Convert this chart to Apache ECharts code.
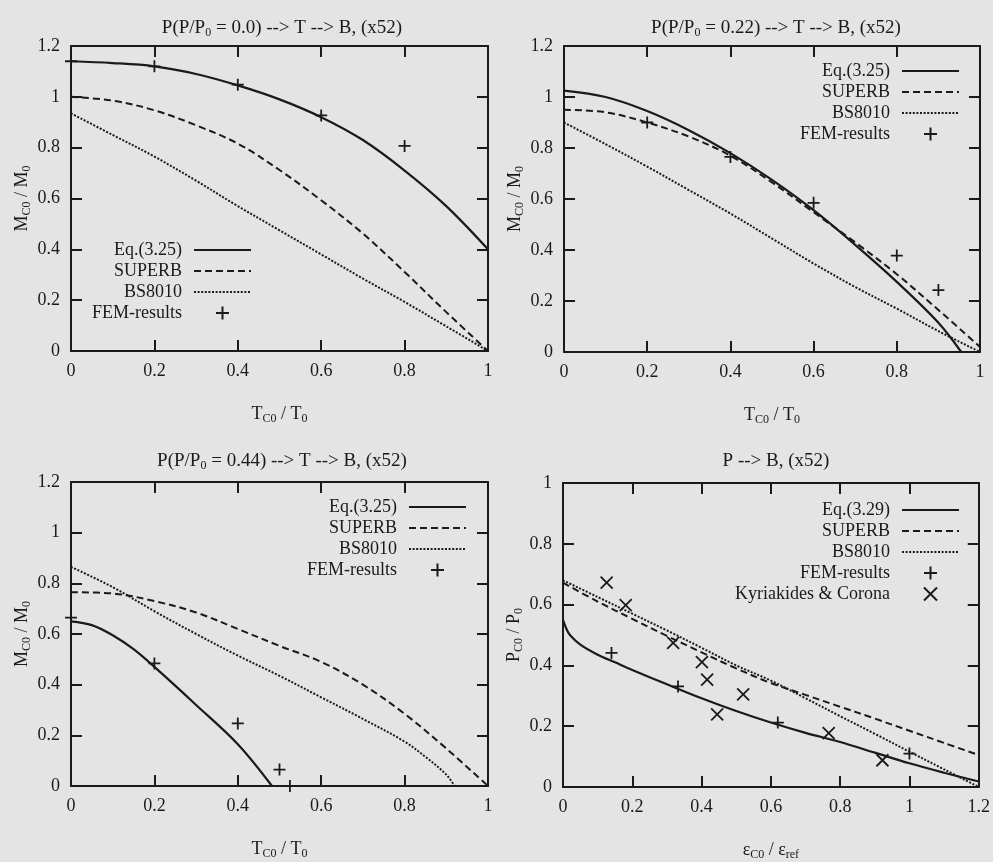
<!DOCTYPE html>
<html>
<head>
<meta charset="utf-8">
<script src="https://cdn.jsdelivr.net/npm/echarts@6/dist/echarts.min.js"></script>
<style>
html,body{margin:0;padding:0;background:#e4e4e5;}
#chart{width:993px;height:862px;}
</style>
</head>
<body>
<div id="chart"></div>
<script>
// ---------- DATA ----------
// Panel 1: P(P/P0 = 0.0) --> T --> B
const p1_eq     = [[0,1.14],[0.1,1.133],[0.2,1.12],[0.3,1.09],[0.4,1.045],[0.5,0.99],[0.6,0.92],[0.7,0.83],[0.8,0.71],[0.9,0.57],[1.0,0.40]];
const p1_superb = [[0,1.0],[0.1,0.985],[0.2,0.947],[0.3,0.888],[0.4,0.816],[0.5,0.712],[0.6,0.593],[0.7,0.462],[0.8,0.311],[0.9,0.153],[1.0,0.0]];
const p1_bs     = [[0,0.935],[0.1,0.85],[0.2,0.765],[0.3,0.67],[0.4,0.57],[0.5,0.475],[0.6,0.38],[0.7,0.285],[0.8,0.193],[0.9,0.097],[1.0,0.0]];
const p1_fem    = [[0,1.14],[0.2,1.12],[0.4,1.048],[0.6,0.927],[0.8,0.807]];

// Panel 2: P(P/P0 = 0.22) --> T --> B
const p2_eq     = [[0,1.025],[0.1,1.0],[0.2,0.945],[0.3,0.87],[0.4,0.78],[0.5,0.675],[0.6,0.556],[0.7,0.42],[0.8,0.275],[0.9,0.115],[0.955,0]];
const p2_superb = [[0,0.95],[0.1,0.94],[0.2,0.9],[0.3,0.845],[0.4,0.77],[0.5,0.665],[0.6,0.548],[0.7,0.43],[0.8,0.305],[0.9,0.165],[1.0,0.02]];
const p2_bs     = [[0,0.9],[0.1,0.815],[0.2,0.727],[0.3,0.635],[0.4,0.543],[0.5,0.445],[0.6,0.347],[0.7,0.255],[0.8,0.17],[0.9,0.082],[1.0,0.0]];
const p2_fem    = [[0.2,0.90],[0.4,0.765],[0.6,0.585],[0.8,0.378],[0.9,0.243]];

// Panel 3: P(P/P0 = 0.44) --> T --> B
const p3_eq     = [[0,0.65],[0.05,0.635],[0.1,0.595],[0.15,0.54],[0.2,0.47],[0.3,0.32],[0.4,0.165],[0.482,0]];
const p3_superb = [[0,0.765],[0.1,0.76],[0.2,0.73],[0.3,0.685],[0.4,0.62],[0.5,0.553],[0.6,0.49],[0.7,0.4],[0.8,0.285],[0.9,0.148],[1.0,0.0]];
const p3_bs     = [[0,0.865],[0.1,0.785],[0.2,0.69],[0.3,0.6],[0.4,0.515],[0.5,0.435],[0.6,0.35],[0.7,0.265],[0.8,0.175],[0.85,0.115],[0.9,0.045],[0.92,0]];
const p3_fem    = [[0,0.665],[0.2,0.484],[0.4,0.247],[0.5,0.065],[0.525,0]];

// Panel 4: P --> B
const p4_eq     = [[0,0.55],[0.01,0.52],[0.02,0.50],[0.05,0.468],[0.1,0.435],[0.15,0.41],[0.2,0.385],[0.3,0.338],[0.4,0.292],[0.5,0.25],[0.6,0.212],[0.7,0.178],[0.8,0.148],[0.9,0.113],[1.0,0.078],[1.1,0.047],[1.2,0.018]];
const p4_superb = [[0,0.672],[0.1,0.61],[0.2,0.553],[0.3,0.497],[0.4,0.443],[0.5,0.39],[0.6,0.342],[0.7,0.303],[0.8,0.264],[0.9,0.225],[1.0,0.185],[1.1,0.145],[1.2,0.105]];
const p4_bs     = [[0,0.68],[0.1,0.625],[0.2,0.57],[0.3,0.515],[0.4,0.458],[0.5,0.40],[0.6,0.35],[0.7,0.292],[0.8,0.233],[0.9,0.175],[1.0,0.116],[1.1,0.058],[1.2,0.0]];
const p4_fem    = [[0.14,0.441],[0.332,0.331],[0.62,0.212],[1.0,0.11]];
const p4_kc     = [[0.126,0.672],[0.181,0.598],[0.318,0.474],[0.401,0.411],[0.416,0.353],[0.52,0.305],[0.445,0.239],[0.767,0.177],[0.922,0.088]];

// Texts
const titles = [
  '{n|P(P/P}{s|0}{n| = 0.0) --> T --> B, (x52)}',
  '{n|P(P/P}{s|0}{n| = 0.22) --> T --> B, (x52)}',
  '{n|P(P/P}{s|0}{n| = 0.44) --> T --> B, (x52)}',
  '{n|P --> B, (x52)}'
];
const xNames = ['{n|T}{s|C0}{n| / T}{s|0}','{n|T}{s|C0}{n| / T}{s|0}','{n|T}{s|C0}{n| / T}{s|0}','{n|ε}{s|C0}{n| / ε}{s|ref}'];
const yNames = ['{n|M}{s|C0}{n| / M}{s|0}','{n|M}{s|C0}{n| / M}{s|0}','{n|M}{s|C0}{n| / M}{s|0}','{n|P}{s|C0}{n| / P}{s|0}'];
const legendNames = [
  ['Eq.(3.25)', 'SUPERB', 'BS8010', 'FEM-results'],
  ['Eq.(3.25)', 'SUPERB', 'BS8010', 'FEM-results'],
  ['Eq.(3.25)', 'SUPERB', 'BS8010', 'FEM-results'],
  ['Eq.(3.29)', 'SUPERB', 'BS8010', 'FEM-results', 'Kyriakides & Corona']
];
const xMax = [1, 1, 1, 1.2];
const yMax = [1.2, 1.2, 1.2, 1.0];

// ---------- STYLE / LAYOUT ----------
const FONT = "'Liberation Serif','DejaVu Serif',serif";
const INK = '#1a1a1a';
const FS = 18;
const rich = {
  n: {fontFamily: FONT, fontSize: FS, fontWeight: 'normal', color: INK, lineHeight: 22},
  s: {fontFamily: FONT, fontSize: 12, fontWeight: 'normal', color: INK, lineHeight: 11, verticalAlign: 'bottom'}
};
const richTitle = {
  n: {fontFamily: FONT, fontSize: 19, fontWeight: 'normal', color: INK, lineHeight: 22},
  s: {fontFamily: FONT, fontSize: 12, fontWeight: 'normal', color: INK, lineHeight: 11, verticalAlign: 'bottom'}
};
const grids = [
  {left: 71,  top: 46,  width: 417, height: 305},
  {left: 564, top: 46,  width: 416, height: 306},
  {left: 71,  top: 482, width: 417, height: 304},
  {left: 563, top: 483, width: 417, height: 304}
];
const PLUS = 'path://M0,5L10,5M5,0L5,10';
const CROSS = 'path://M0,0L10,10M10,0L0,10';

const xAxes = [], yAxes = [], series = [];
grids.forEach((g, i) => {
  const lineSt = {show: true, onZero: false, lineStyle: {color: INK, width: 2}};
  const tick = {show: true, inside: true, length: 11, lineStyle: {color: INK, width: 2}};
  xAxes.push({
    type: 'value', gridIndex: i, min: 0, max: xMax[i], interval: 0.2, position: 'bottom',
    axisLine: lineSt, axisTick: tick, splitLine: {show: false},
    axisLabel: {fontFamily: FONT, fontSize: FS, color: INK, margin: 11},
    name: xNames[i], nameLocation: 'middle', nameGap: 52,
    nameTextStyle: {rich: rich}
  });
  xAxes.push({
    type: 'value', gridIndex: i, min: 0, max: xMax[i], interval: 0.2, position: 'top',
    axisLine: lineSt, axisTick: tick, splitLine: {show: false}, axisLabel: {show: false}
  });
  yAxes.push({
    type: 'value', gridIndex: i, min: 0, max: yMax[i], interval: 0.2, position: 'left',
    axisLine: lineSt, axisTick: tick, splitLine: {show: false},
    axisLabel: {fontFamily: FONT, fontSize: FS, color: INK, margin: 11},
    name: yNames[i], nameLocation: 'middle', nameGap: 38,
    nameTextStyle: {rich: rich}
  });
  yAxes.push({
    type: 'value', gridIndex: i, min: 0, max: yMax[i], interval: 0.2, position: 'right',
    axisLine: lineSt, axisTick: tick, splitLine: {show: false}, axisLabel: {show: false}
  });
});

function lineSeries(name, data, i, kind) {
  const ls = kind === 'solid' ? {color: INK, width: 2.2, type: 'solid'}
           : kind === 'dashed' ? {color: INK, width: 2, type: [7, 4]}
           : {color: INK, width: 2, type: [2, 1.6]};
  return {
    type: 'line', name: name, data: data, xAxisIndex: 2 * i, yAxisIndex: 2 * i,
    symbol: 'none', showSymbol: false, smooth: 0.35,
    lineStyle: ls, itemStyle: {color: INK}, silent: true, z: 2
  };
}
function markSeries(name, data, i, sym, size) {
  return {
    type: 'scatter', name: name, data: data, xAxisIndex: 2 * i, yAxisIndex: 2 * i,
    symbol: sym, symbolSize: size,
    itemStyle: {color: 'rgba(0,0,0,0)', borderColor: INK, borderWidth: 1.8, opacity: 1},
    silent: true, z: 3, clip: false
  };
}

series.push(lineSeries('Eq.(3.25)', p1_eq, 0, 'solid'));
series.push(lineSeries('SUPERB', p1_superb, 0, 'dashed'));
series.push(lineSeries('BS8010', p1_bs, 0, 'dotted'));
series.push(markSeries('FEM-results', p1_fem, 0, PLUS, 12));

series.push(lineSeries('Eq.(3.25)', p2_eq, 1, 'solid'));
series.push(lineSeries('SUPERB', p2_superb, 1, 'dashed'));
series.push(lineSeries('BS8010', p2_bs, 1, 'dotted'));
series.push(markSeries('FEM-results', p2_fem, 1, PLUS, 12));

series.push(lineSeries('Eq.(3.25)', p3_eq, 2, 'solid'));
series.push(lineSeries('SUPERB', p3_superb, 2, 'dashed'));
series.push(lineSeries('BS8010', p3_bs, 2, 'dotted'));
series.push(markSeries('FEM-results', p3_fem, 2, PLUS, 12));

series.push(lineSeries('Eq.(3.29)', p4_eq, 3, 'solid'));
series.push(lineSeries('SUPERB', p4_superb, 3, 'dashed'));
series.push(lineSeries('BS8010', p4_bs, 3, 'dotted'));
series.push(markSeries('FEM-results', p4_fem, 3, PLUS, 12));
series.push(markSeries('Kyriakides & Corona', p4_kc, 3, CROSS, 12));

const markerNames = ['FEM-results', 'Kyriakides & Corona'];
const legendRight = [741, 33, 526, 33];
const legendTop = [241, 62, 498, 501];
const legends = legendNames.map((names, i) => ({
  orient: 'vertical', align: 'right', itemWidth: 57, itemHeight: 13, itemGap: 3,
  padding: 0, selectedMode: false, right: legendRight[i], top: legendTop[i],
  textStyle: {fontFamily: FONT, fontSize: FS, color: INK, padding: [0, 7, 0, 0]},
  lineStyle: {width: 2},
  data: names.map(n => markerNames.indexOf(n) >= 0 ? {name: n}
    : {name: n, itemStyle: {color: 'rgba(0,0,0,0)', borderColor: 'rgba(0,0,0,0)', borderWidth: 0}})
}));

const titleCenters = [[277, 12], [771, 12], [277, 445], [771, 445]];
const titleOpts = titles.map((t, i) => ({
  text: t, left: titleCenters[i][0], top: titleCenters[i][1], textAlign: 'center',
  textStyle: {fontWeight: 'normal', rich: richTitle}
}));

const chart = echarts.init(document.getElementById('chart'), null, {renderer: 'canvas'});
chart.setOption({
  backgroundColor: '#e4e4e5',
  animation: false,
  title: titleOpts,
  grid: grids,
  xAxis: xAxes,
  yAxis: yAxes,
  legend: legends,
  series: series
});
</script>
</body>
</html>
